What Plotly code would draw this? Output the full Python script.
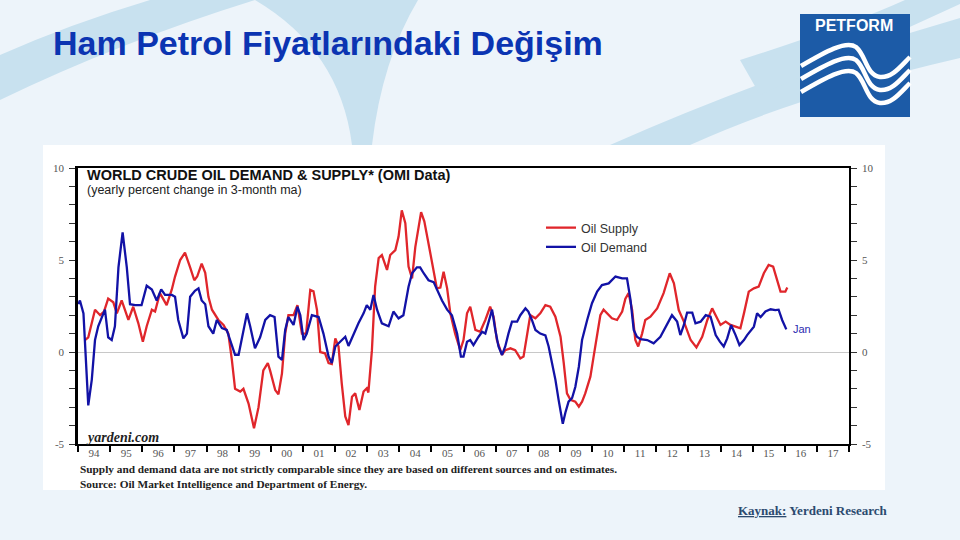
import re
import pandas as pd
import plotly.graph_objects as go

# ---------------- data (decimal years, yearly % change in 3-month ma) ----------------
demand_t = [1994.01, 1994.06, 1994.17, 1994.32, 1994.43, 1994.53, 1994.63, 1994.84, 1994.94, 1995.05,
            1995.15, 1995.26, 1995.39, 1995.52, 1995.62, 1995.78, 1995.98, 1996.14, 1996.30, 1996.45,
            1996.59, 1996.71, 1996.92, 1997.02, 1997.12, 1997.28, 1997.39, 1997.49, 1997.64, 1997.75,
            1997.85, 1997.96, 1998.06, 1998.21, 1998.32, 1998.48, 1998.63, 1998.79, 1998.89, 1999.00,
            1999.10, 1999.26, 1999.36, 1999.51, 1999.67, 1999.83, 1999.98, 2000.12, 2000.24, 2000.35,
            2000.45, 2000.55, 2000.71, 2000.83, 2000.92, 2001.02, 2001.12, 2001.28, 2001.49, 2001.64,
            2001.80, 2001.90, 2002.01, 2002.16, 2002.32, 2002.42, 2002.58, 2002.73, 2002.89, 2002.99,
            2003.10, 2003.20, 2003.31, 2003.46, 2003.67, 2003.82, 2003.98, 2004.13, 2004.29, 2004.40,
            2004.55, 2004.65, 2004.76, 2004.91, 2005.07, 2005.17, 2005.33, 2005.49, 2005.64, 2005.80,
            2005.92, 2006.00, 2006.11, 2006.21, 2006.31, 2006.47, 2006.58, 2006.68, 2006.83, 2006.89,
            2006.99, 2007.09, 2007.20, 2007.30, 2007.40, 2007.51, 2007.67, 2007.77, 2007.93, 2008.02,
            2008.13, 2008.24, 2008.39, 2008.55, 2008.65, 2008.76, 2008.86, 2008.96, 2009.09, 2009.17,
            2009.27, 2009.38, 2009.48, 2009.59, 2009.69, 2009.85, 2010.00, 2010.16, 2010.31, 2010.52,
            2010.62, 2010.73, 2010.94, 2011.09, 2011.20, 2011.30, 2011.40, 2011.51, 2011.72, 2011.92,
            2012.13, 2012.34, 2012.49, 2012.65, 2012.75, 2012.86, 2012.96, 2013.12, 2013.22, 2013.38,
            2013.54, 2013.69, 2013.85, 2013.98, 2014.10, 2014.21, 2014.33, 2014.47, 2014.59, 2014.73,
            2014.83, 2015.04, 2015.14, 2015.25, 2015.40, 2015.56, 2015.71, 2015.81, 2015.92, 2016.05]
demand_v = [2.6, 2.8, 2.1, -2.9, -1.5, 0.65, 1.4, 2.3, 0.8, 0.65,
            1.4, 4.6, 6.5, 4.6, 2.6, 2.55, 2.55, 3.6, 3.4, 2.8,
            3.4, 3.1, 3.1, 3.0, 1.74, 0.74, 1.0, 3.0, 3.33, 3.46,
            2.8, 2.6, 1.4, 1.0, 1.74, 1.3, 1.2, 0.3, -0.15, -0.15,
            0.65, 2.1, 1.4, 0.2, 0.8, 1.74, 2.0, 1.9, -0.25, -0.43,
            1.2, 1.9, 1.47, 2.46, 2.0, 0.65, 1.0, 2.0, 1.9, 1.0,
            -0.25, -0.6, 0.3, 0.56, 0.83, 0.33, 1.0, 1.56, 2.1, 2.55,
            2.3, 3.1, 2.3, 1.56, 1.4, 2.2, 1.83, 2.0, 3.55, 4.28,
            4.6, 4.6, 4.28, 3.9, 3.8, 3.4, 2.8, 2.3, 2.0, 1.0,
            -0.25, -0.25, 0.56, 0.65, 0.38, 0.83, 1.1, 1.0, 2.0, 2.3,
            1.2, 0.3, -0.16, 0.3, 1.0, 1.65, 1.65, 2.0, 2.37, 2.2,
            1.74, 1.2, 1.0, 0.9, 0.3, -0.6, -1.5, -2.6, -3.9, -3.3,
            -2.7, -2.5, -1.9, -0.8, 0.65, 1.74, 2.65, 3.28, 3.64, 3.73,
            3.9, 4.1, 4.0, 4.0, 2.83, 1.2, 0.83, 0.7, 0.65, 0.47,
            0.83, 1.56, 2.0, 1.65, 0.92, 1.47, 2.14, 2.14, 1.56, 1.65,
            2.0, 1.92, 0.92, 0.56, 0.3, 0.74, 1.47, 0.92, 0.38, 0.65,
            0.92, 1.38, 2.1, 1.9, 2.2, 2.32, 2.28, 2.3, 1.74, 1.23]

supply_t = [1994.22, 1994.32, 1994.53, 1994.69, 1994.81, 1994.94, 1995.10, 1995.21, 1995.36, 1995.46,
            1995.57, 1995.72, 1995.88, 1996.02, 1996.14, 1996.30, 1996.40, 1996.55, 1996.76, 1996.92,
            1997.02, 1997.18, 1997.33, 1997.49, 1997.62, 1997.71, 1997.85, 1997.96, 1998.06, 1998.17,
            1998.37, 1998.53, 1998.68, 1998.79, 1998.89, 1999.05, 1999.15, 1999.31, 1999.48, 1999.62,
            1999.77, 1999.91, 1999.98, 2000.14, 2000.24, 2000.35, 2000.45, 2000.55, 2000.71, 2000.83,
            2000.97, 2001.10, 2001.23, 2001.33, 2001.44, 2001.54, 2001.69, 2001.80, 2001.90, 2002.01,
            2002.11, 2002.21, 2002.32, 2002.42, 2002.53, 2002.63, 2002.76, 2002.89, 2002.99, 2003.04,
            2003.15, 2003.25, 2003.36, 2003.46, 2003.62, 2003.72, 2003.88, 2003.98, 2004.08, 2004.19,
            2004.29, 2004.40, 2004.50, 2004.68, 2004.78, 2004.91, 2005.07, 2005.17, 2005.28, 2005.38,
            2005.49, 2005.59, 2005.74, 2005.90, 2006.00, 2006.11, 2006.21, 2006.37, 2006.52, 2006.68,
            2006.83, 2006.94, 2007.04, 2007.20, 2007.30, 2007.46, 2007.61, 2007.77, 2007.87, 2007.98,
            2008.08, 2008.24, 2008.39, 2008.55, 2008.70, 2008.86, 2009.02, 2009.12, 2009.22, 2009.33,
            2009.48, 2009.59, 2009.69, 2009.79, 2009.95, 2010.05, 2010.16, 2010.26, 2010.36, 2010.62,
            2010.78, 2010.94, 2011.04, 2011.14, 2011.25, 2011.35, 2011.44, 2011.56, 2011.66, 2011.82,
            2012.03, 2012.23, 2012.42, 2012.55, 2012.70, 2012.86, 2013.07, 2013.25, 2013.43, 2013.59,
            2013.74, 2013.88, 2014.00, 2014.16, 2014.31, 2014.47, 2014.62, 2014.73, 2014.88, 2015.04,
            2015.19, 2015.35, 2015.50, 2015.64, 2015.76, 2015.87, 2016.02, 2016.08]
supply_v = [0.65, 0.8, 2.3, 2.0, 2.2, 2.9, 2.7, 2.1, 2.8, 2.3,
            1.74, 2.46, 1.56, 0.56, 1.4, 2.3, 2.2, 3.2, 2.55, 3.4,
            4.1, 5.0, 5.4, 4.6, 3.9, 4.1, 4.8, 4.3, 3.0, 2.3,
            1.74, 1.47, 1.0, -0.43, -2.0, -2.15, -2.0, -2.8, -4.15, -3.0,
            -1.0, -0.6, -1.0, -2.07, -2.3, -1.16, 1.0, 2.0, 2.0, 2.55,
            1.0, 1.0, 3.37, 3.3, 2.28, 0.0, -0.07, -0.6, -0.65, 0.74,
            0.3, -1.7, -3.5, -3.97, -2.43, -2.25, -3.15, -2.15, -1.97, -2.2,
            0.1, 3.55, 5.1, 5.27, 4.46, 5.27, 5.54, 6.27, 7.7, 7.0,
            4.64, 4.0, 5.7, 7.6, 7.1, 5.9, 4.46, 3.46, 3.5, 4.36,
            3.46, 2.1, 1.0, 0.1, 0.65, 2.1, 2.46, 1.2, 1.1, 1.74,
            2.46, 1.9, 0.65, -0.16, 0.1, 0.2, 0.1, -0.35, -0.25, 1.0,
            2.0, 1.83, 2.1, 2.55, 2.46, 1.92, 0.83, -0.6, -2.25, -2.6,
            -2.7, -2.97, -2.7, -2.25, -1.34, -0.25, 1.0, 2.0, 2.3, 1.83,
            1.74, 2.2, 2.9, 3.2, 2.28, 0.65, 0.3, 1.0, 1.74, 1.92,
            2.37, 3.2, 4.28, 3.73, 2.28, 1.65, 0.65, 0.25, 0.83, 1.74,
            2.37, 1.92, 1.47, 1.65, 1.47, 1.38, 1.29, 2.1, 3.28, 3.46,
            3.55, 4.28, 4.73, 4.64, 3.9, 3.28, 3.28, 3.5]

assert len(demand_t) == len(demand_v)
assert len(supply_t) == len(supply_v)

y_ticks = list(range(-5, 11))
y_labels = [str(v) if v % 5 == 0 else "" for v in y_ticks]

slide_title = "Ham Petrol Fiyatlarındaki Değişim"
chart_title = "WORLD CRUDE OIL DEMAND & SUPPLY* (OMI Data)"
chart_subtitle = "(yearly percent change in 3-month ma)"
note_1 = "Supply and demand data are not strictly comparable since they are based on different sources and on estimates."
note_2 = "Source: Oil Market Intelligence and Department of Energy."


def to_date(t):
    y = int(t)
    start = pd.Timestamp(year=y, month=1, day=1)
    end = pd.Timestamp(year=y + 1, month=1, day=1)
    return start + (end - start) * (t - y)


demand_x = [to_date(t) for t in demand_t]
supply_x = [to_date(t) for t in supply_t]

# ---------------- geometry helpers (pixel -> paper) ----------------
PL, PR, PT, PB = 78, 849, 168, 444
PW, PH = PR - PL, PB - PT


def X(px):
    return (px - PL) / PW


def Y(py):
    return (PB - py) / PH


def P(s):
    return re.sub(r"(\d+\.?\d*),(\d+\.?\d*)",
                  lambda m: f"{X(float(m.group(1))):.5f},{Y(float(m.group(2))):.5f}", s)


RED = "#E0262B"
BLUE = "#1212A6"
BAND = "#C8E1EF"

fig = go.Figure()
fig.add_trace(go.Scatter(x=supply_x, y=supply_v, mode="lines", name="Oil Supply",
                         line=dict(color=RED, width=2.3), hoverinfo="x+y"))
fig.add_trace(go.Scatter(x=demand_x, y=demand_v, mode="lines", name="Oil Demand",
                         line=dict(color=BLUE, width=2.3), hoverinfo="x+y"))
fig.add_trace(go.Scatter(x=[demand_x[0]], y=[0], yaxis="y2", mode="markers",
                         marker=dict(opacity=0), showlegend=False, hoverinfo="skip"))

shapes = []
# background swooshes
for s in [
    "M 0,55 Q 70,24 150,0 L 255,0 Q 120,42 0,100 Z",
    "M 255,0 L 418,0 Q 382,60 372,145 L 352,145 Q 340,50 255,0 Z",
    "M 610,145 Q 780,70 960,18 L 960,58 Q 800,95 690,145 Z",
    "M 740,60 Q 850,25 905,0 L 960,0 L 960,4 Q 860,50 760,95 Z",
]:
    shapes.append(dict(type="path", xref="paper", yref="paper", path=P(s),
                       fillcolor=BAND, line=dict(width=0), layer="below"))
# white chart panel
shapes.append(dict(type="rect", xref="paper", yref="paper", x0=X(43), x1=X(885), y0=Y(490), y1=Y(145),
                   fillcolor="white", line=dict(width=0), layer="below"))
# logo
shapes.append(dict(type="rect", xref="paper", yref="paper", x0=X(800), x1=X(910), y0=Y(117), y1=Y(14),
                   fillcolor="#1C5BA7", line=dict(width=0), layer="below"))
for d in (0, 13, 26):
    s = (f"M 801,{66 + d} C 825,{52 + d} 846,{40 + d} 856,{47 + d} "
         f"C 866,{55 + d} 866,{75 + d} 880,{77 + d} C 892,{78 + d} 900,{67 + d} 910,{57 + d}")
    shapes.append(dict(type="path", xref="paper", yref="paper", path=P(s),
                       line=dict(color="white", width=4.5), fillcolor="rgba(0,0,0,0)", layer="below"))

SERIF = "Liberation Serif, Times New Roman, serif"
SANS = "Liberation Sans, Arial, sans-serif"

annotations = [
    dict(text=f"<b>{slide_title}</b>", x=X(51), y=Y(43), xanchor="left", yanchor="middle",
         font=dict(family=SANS, size=34, color="#0B34B2")),
    dict(text="<b>PETFORM</b>", x=X(854), y=Y(26), xanchor="center", yanchor="middle",
         font=dict(family=SANS, size=16, color="white")),
    dict(text=f"<b>{chart_title}</b>", x=X(85), y=Y(174.5), xanchor="left", yanchor="middle",
         font=dict(family=SANS, size=14.5, color="#111111")),
    dict(text=chart_subtitle, x=X(85), y=Y(190), xanchor="left", yanchor="middle",
         font=dict(family=SANS, size=12.5, color="#222222")),
    dict(text="<b><i>yardeni.com</i></b>", x=X(84), y=Y(437), xanchor="left", yanchor="middle",
         font=dict(family=SERIF, size=14, color="#222222")),
    dict(text=f"<b>{note_1}<br>{note_2}</b>", x=X(78), y=Y(476), xanchor="left", yanchor="middle",
         align="left", font=dict(family=SERIF, size=11.3, color="#222222")),
    dict(text="<b><u>Kaynak:</u> Yerdeni Research</b>", x=X(736), y=Y(510), xanchor="left", yanchor="middle",
         font=dict(family=SERIF, size=13, color="#2B4A6F")),
    dict(text="Jan", xref="x", yref="y", x=demand_x[-1], y=demand_v[-1], xanchor="left", yanchor="middle",
         xshift=5, font=dict(family=SANS, size=11, color="#2B2BB0")),
]
for a in annotations:
    a.setdefault("xref", "paper")
    a.setdefault("yref", "paper")
    a["showarrow"] = False

tickfont = dict(family=SERIF, size=11, color="#555555")
fig.update_layout(
    width=960, height=540,
    margin=dict(l=PL, r=960 - PR, t=PT, b=540 - PB, pad=0),
    paper_bgcolor="#EDF4FA", plot_bgcolor="white",
    shapes=shapes, annotations=annotations,
    showlegend=True,
    legend=dict(x=X(541), y=Y(213), xanchor="left", yanchor="top", bgcolor="rgba(0,0,0,0)",
                font=dict(family=SANS, size=12.5, color="#333333"), tracegroupgap=0,
                itemwidth=30),
    xaxis=dict(type="date", range=["1994-01-01", "2018-01-01"], tick0="1994-01-01", dtick="M12",
               tickformat="%y", ticklabelmode="period", ticks="outside", ticklen=6, tickwidth=1.5,
               tickcolor="black", showline=True, linecolor="black", linewidth=1.5, mirror=True,
               showgrid=False, zeroline=False, tickfont=tickfont, ticklabelstandoff=-8),
    yaxis=dict(range=[-5, 10], tickvals=y_ticks, ticktext=y_labels, ticks="outside", ticklen=6,
               tickwidth=1, tickcolor="#333333", showline=True, linecolor="black", linewidth=2.5,
               showgrid=False, zeroline=True, zerolinecolor="#C8C8C8", zerolinewidth=1,
               tickfont=tickfont, ticklabelstandoff=3),
    yaxis2=dict(range=[-5, 10], overlaying="y", side="right", tickvals=y_ticks, ticktext=y_labels,
                ticks="outside", ticklen=6, tickwidth=1, tickcolor="#333333", showline=True,
                linecolor="black", linewidth=1.5, showgrid=False, zeroline=False, tickfont=tickfont,
                ticklabelstandoff=3),
)

fig.write_html("out.html", config={"displayModeBar": False},
               post_script="document.body.style.margin='0';")
